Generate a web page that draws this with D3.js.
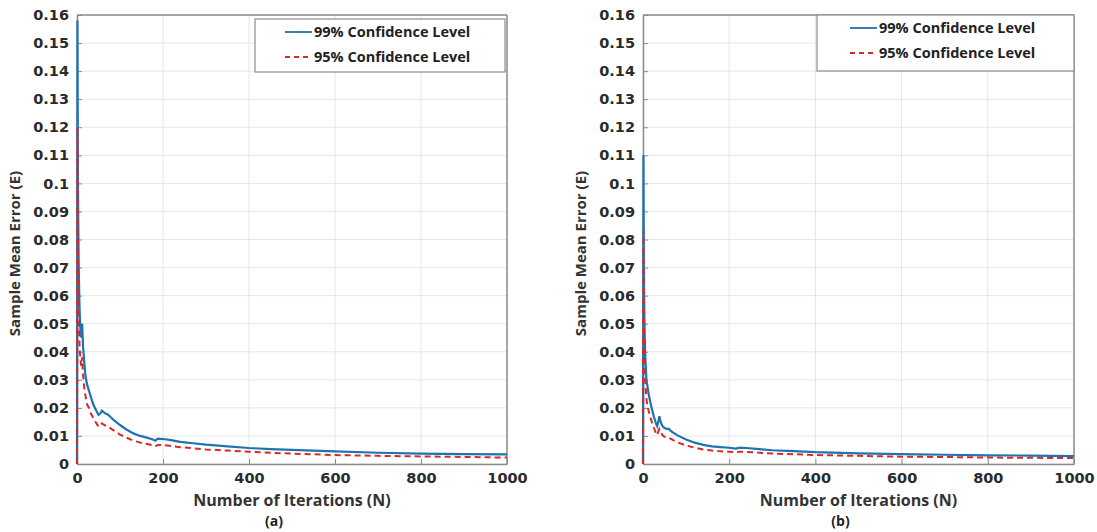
<!DOCTYPE html>
<html><head><meta charset="utf-8">
<script src="https://cdn.jsdelivr.net/npm/d3@7"></script>
<style>body{margin:0;background:#fff}svg{display:block}</style>
</head><body>
<svg id="chart" width="1097" height="532"></svg>
<script>
const xTicks = [0, 200, 400, 600, 800, 1000];
const yTicks = [0,0.01,0.02,0.03,0.04,0.05,0.06,0.07,0.08,0.09,0.1,0.11,0.12,0.13,0.14,0.15,0.16];
const seriesNames = ["99% Confidence Level", "95% Confidence Level"];
const panelLabels = ["(a)", "(b)"];
const xTitle = "Number of Iterations (N)";
const yTitle = "Sample Mean Error (E)";

const a99 = [[0,0],[1,0.158],[2,0.105],[3,0.085],[4,0.07],[5,0.062],[6,0.055],[8,0.048],[10,0.045],[12,0.05],[14,0.042],[17,0.036],[20,0.031],[24,0.028],[28,0.026],[32,0.024],[36,0.022],[40,0.0205],[45,0.019],[50,0.0175],[54,0.018],[58,0.019],[62,0.0185],[66,0.018],[70,0.0178],[75,0.0172],[85,0.0157],[100,0.0139],[115,0.0123],[130,0.011],[145,0.0101],[160,0.0095],[175,0.0088],[182,0.0083],[188,0.009],[200,0.0089],[215,0.0086],[240,0.0079],[270,0.0074],[300,0.0069],[350,0.0063],[400,0.0057],[450,0.0053],[500,0.005],[600,0.0045],[700,0.004],[800,0.0037],[900,0.0035],[1000,0.0034]];
const a95 = [[0,0],[1,0.12],[2,0.08],[3,0.065],[4,0.054],[5,0.047],[6,0.042],[8,0.037],[10,0.035],[12,0.038],[14,0.032],[17,0.027],[20,0.024],[24,0.021],[28,0.02],[32,0.018],[36,0.017],[40,0.0158],[45,0.0145],[50,0.0133],[54,0.0138],[58,0.0145],[62,0.014],[66,0.0137],[70,0.0135],[75,0.013],[85,0.012],[100,0.0105],[115,0.0094],[130,0.0084],[145,0.0077],[160,0.0072],[175,0.0067],[182,0.0063],[188,0.0068],[200,0.0068],[215,0.0065],[240,0.006],[270,0.0056],[300,0.0052],[350,0.0048],[400,0.0044],[450,0.004],[500,0.0037],[600,0.0032],[700,0.0029],[800,0.0027],[900,0.0025],[1000,0.0023]];
const b99 = [[0,0],[1,0.11],[2,0.07],[3,0.055],[4,0.045],[5,0.04],[6,0.036],[8,0.03],[10,0.028],[13,0.025],[16,0.0228],[20,0.02],[25,0.017],[30,0.0145],[33,0.0135],[36,0.0155],[38,0.017],[41,0.015],[45,0.0135],[50,0.0128],[55,0.0125],[60,0.0125],[63,0.012],[70,0.0112],[80,0.0102],[100,0.0087],[120,0.0076],[140,0.0068],[160,0.0063],[180,0.006],[200,0.0058],[215,0.0055],[225,0.0058],[240,0.0057],[270,0.0053],[300,0.0049],[350,0.0046],[400,0.0042],[500,0.0038],[600,0.0035],[700,0.0033],[800,0.0031],[900,0.003],[1000,0.0028]];
const b95 = [[0,0],[1,0.083],[2,0.055],[3,0.042],[4,0.035],[5,0.031],[6,0.028],[8,0.023],[10,0.021],[13,0.019],[16,0.0173],[20,0.0152],[25,0.013],[30,0.011],[33,0.0103],[36,0.0118],[38,0.0125],[41,0.0114],[45,0.0103],[50,0.0097],[55,0.0095],[60,0.0094],[63,0.0091],[70,0.0085],[80,0.0077],[100,0.0066],[120,0.0058],[140,0.0052],[160,0.0048],[180,0.0045],[200,0.0044],[215,0.0042],[225,0.0044],[240,0.0043],[270,0.004],[300,0.0037],[350,0.0035],[400,0.0032],[500,0.0029],[600,0.0026],[700,0.0025],[800,0.0023],[900,0.0022],[1000,0.0021]];

const svg = d3.select("#chart");
const blue = "#1f73b0", red = "#d42a2a";
const tickFont = "'DejaVu Sans', sans-serif";
const titleFont = "'Open Sans', sans-serif";

function panel(cfg){
  const {left, right, top, bottom, s99, s95, label, leg} = cfg;
  const x = d3.scaleLinear().domain([0,1000]).range([left,right]);
  const y = d3.scaleLinear().domain([0,0.16]).range([bottom,top]);
  const g = svg.append("g");
  g.append("g").selectAll("line").data(yTicks).join("line")
    .attr("x1",left).attr("x2",right).attr("y1",d=>y(d)).attr("y2",d=>y(d))
    .attr("stroke","#e6e6e6").attr("stroke-width",1);
  g.append("g").selectAll("line").data(xTicks).join("line")
    .attr("y1",top).attr("y2",bottom).attr("x1",d=>x(d)).attr("x2",d=>x(d))
    .attr("stroke","#e6e6e6").attr("stroke-width",1);
  const xa = g.append("g").attr("transform",`translate(0,${bottom})`)
    .call(d3.axisBottom(x).tickValues(xTicks).tickFormat(d3.format("d")).tickSizeInner(-5).tickSizeOuter(0).tickPadding(9));
  const ya = g.append("g").attr("transform",`translate(${left},0)`)
    .call(d3.axisLeft(y).tickValues(yTicks).tickFormat(d=>String(+d.toFixed(2))).tickSizeInner(-5).tickSizeOuter(0).tickPadding(8));
  [xa,ya].forEach(a=>{
    a.select(".domain").attr("stroke","#8c8c8c").attr("stroke-width",1.5);
    a.selectAll(".tick line").attr("stroke","#8c8c8c");
    a.selectAll("text").attr("font-family",tickFont).attr("font-weight","bold")
      .attr("font-size","14.5px").attr("fill","#2b2b2b");
  });
  g.append("line").attr("x1",left).attr("x2",right).attr("y1",top).attr("y2",top).attr("stroke","#8c8c8c").attr("stroke-width",1.5);
  g.append("line").attr("x1",right).attr("x2",right).attr("y1",top).attr("y2",bottom).attr("stroke","#8c8c8c").attr("stroke-width",1.5);
  const line = d3.line().x(d=>x(d[0])).y(d=>y(d[1]));
  g.append("path").datum(s99).attr("d",line).attr("fill","none").attr("stroke",blue)
    .attr("stroke-width",2.2);
  g.append("path").datum(s95).attr("d",line).attr("fill","none").attr("stroke",red)
    .attr("stroke-width",2).attr("stroke-dasharray","6,4");
  g.append("text").attr("x",(left+right)/2).attr("y",bottom+42).attr("text-anchor","middle")
    .attr("font-family",titleFont).attr("font-weight","bold").attr("font-size","16px").attr("fill","#333").text(xTitle);
  g.append("text").attr("x",(left+right)/2-18).attr("y",bottom+62).attr("text-anchor","middle")
    .attr("font-family",titleFont).attr("font-weight","bold").attr("font-size","14px").attr("fill","#222").text(label);
  g.append("text").attr("transform",`translate(${left-57},${(top+bottom)/2+14}) rotate(-90)`).attr("text-anchor","middle")
    .attr("font-family",titleFont).attr("font-weight","bold").attr("font-size","15px").attr("fill","#333").text(yTitle);
  const lg = g.append("g");
  lg.append("rect").attr("x",leg.x).attr("y",leg.y).attr("width",leg.w).attr("height",leg.h)
    .attr("fill","#fff").attr("stroke","#8c8c8c").attr("stroke-width",1.2);
  const items = [{name:seriesNames[0],c:blue,dash:null},{name:seriesNames[1],c:red,dash:"5,4"}];
  items.forEach((it,i)=>{
    const yy = leg.y + 13 + i*25;
    lg.append("line").attr("x1",leg.lx).attr("x2",leg.lx+27).attr("y1",yy).attr("y2",yy)
      .attr("stroke",it.c).attr("stroke-width",1.8).attr("stroke-dasharray",it.dash);
    lg.append("text").attr("x",leg.lx+29).attr("y",yy+5).attr("font-family",titleFont)
      .attr("font-weight","bold").attr("font-size","14.5px").attr("fill","#222").text(it.name);
  });
}

panel({left:77,right:507,top:15,bottom:464,s99:a99,s95:a95,label:panelLabels[0],
  leg:{x:255,y:19,w:250,h:53,lx:285}});
panel({left:643,right:1074,top:15,bottom:464,s99:b99,s95:b95,label:panelLabels[1],
  leg:{x:817,y:15,w:257,h:56,lx:850}});
</script>
</body></html>
